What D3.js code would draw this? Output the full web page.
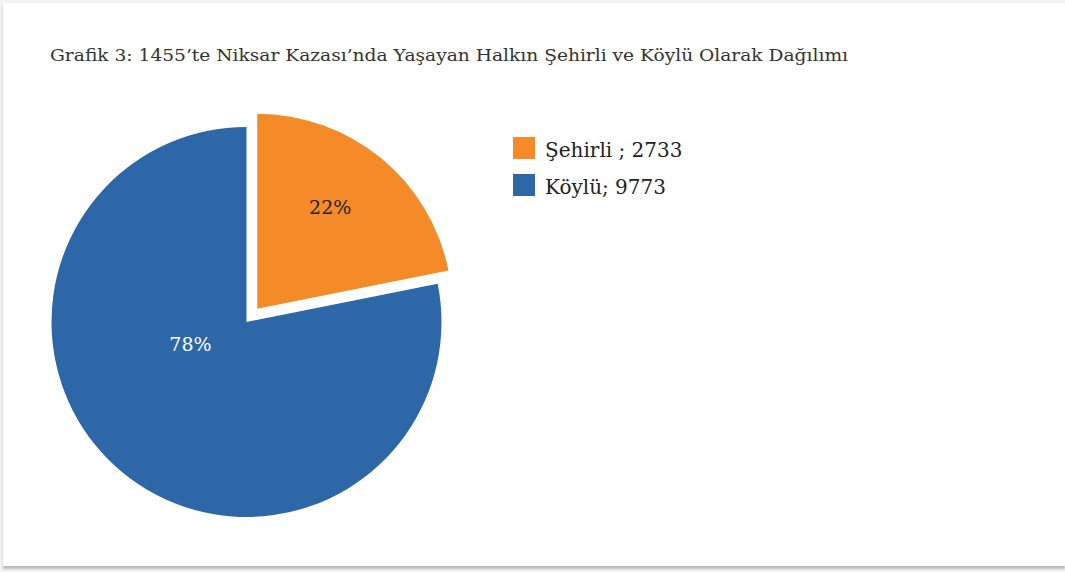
<!DOCTYPE html>
<html>
<head>
<meta charset="utf-8">
<script src="https://cdn.jsdelivr.net/npm/d3@7"></script>
<style>
  html, body { margin: 0; padding: 0; background: #f3f3f3; }
  #card {
    position: absolute; left: 3px; top: 3px; width: 1062px; height: 563px;
    background: #fff; box-shadow: 0 3px 2px #bcbcbc;
  }
</style>
</head>
<body>
<div id="card"></div>
<script>
const categories = ['Şehirli', 'Köylü']
const values = [2733, 9773]
const legendLabels = ['Şehirli ; 2733', 'Köylü; 9773']
const percentLabels = ['22%', '78%']
const colors = ['#f58a28', '#2d67a7']

const w = 1062
const h = 563
const r = 195
const cx = 243.5
const cy = 319
const explode = 17
const font = '"DejaVu Serif", serif'

// label placement (angle in degrees from top, fraction of radius) like Excel's best fit
const labelPos = [{ a: 36, k: 0.73 }, { a: 248, k: 0.31 }]

const svg = d3.select('#card')
  .append('svg')
  .attr('width', w)
  .attr('height', h)

svg.append('text')
  .attr('x', 47)
  .attr('y', 58)
  .attr('font-family', font)
  .attr('font-size', 17)
  .attr('textLength', 798)
  .attr('lengthAdjust', 'spacingAndGlyphs')
  .attr('fill', '#333')
  .text('Grafik 3: 1455’te Niksar Kazası’nda Yaşayan Halkın Şehirli ve Köylü Olarak Dağılımı')

const pie = d3.pie().sort(null).value(d => d)
const arcs = pie(values)
const arc = d3.arc().innerRadius(0).outerRadius(r)

const g = svg.append('g').attr('transform', `translate(${cx},${cy})`)

g.selectAll('path')
  .data(arcs)
  .enter()
  .append('path')
  .attr('d', arc)
  .attr('fill', (d, i) => colors[i])
  .attr('transform', (d, i) => {
    if (i !== 0) return null
    const a = (d.startAngle + d.endAngle) / 2
    return `translate(${Math.sin(a) * explode},${-Math.cos(a) * explode})`
  })

g.selectAll('text')
  .data(arcs)
  .enter()
  .append('text')
  .attr('x', (d, i) => Math.sin(labelPos[i].a * Math.PI / 180) * r * labelPos[i].k)
  .attr('y', (d, i) => -Math.cos(labelPos[i].a * Math.PI / 180) * r * labelPos[i].k)
  .attr('text-anchor', 'middle')
  .attr('dy', '0.35em')
  .attr('font-family', font)
  .attr('font-size', 19)
  .attr('fill', (d, i) => i === 0 ? '#222' : '#fff')
  .text((d, i) => percentLabels[i])

const legend = svg.selectAll('g.legend')
  .data(categories)
  .enter()
  .append('g')
  .attr('class', 'legend')
  .attr('transform', (d, i) => `translate(510,${134 + i * 37})`)

legend.append('rect')
  .attr('width', 22)
  .attr('height', 22)
  .attr('fill', (d, i) => colors[i])

legend.append('text')
  .attr('x', 32)
  .attr('y', 20)
  .attr('font-family', font)
  .attr('font-size', 20)
  .attr('fill', '#222')
  .text((d, i) => legendLabels[i])
</script>
</body>
</html>
